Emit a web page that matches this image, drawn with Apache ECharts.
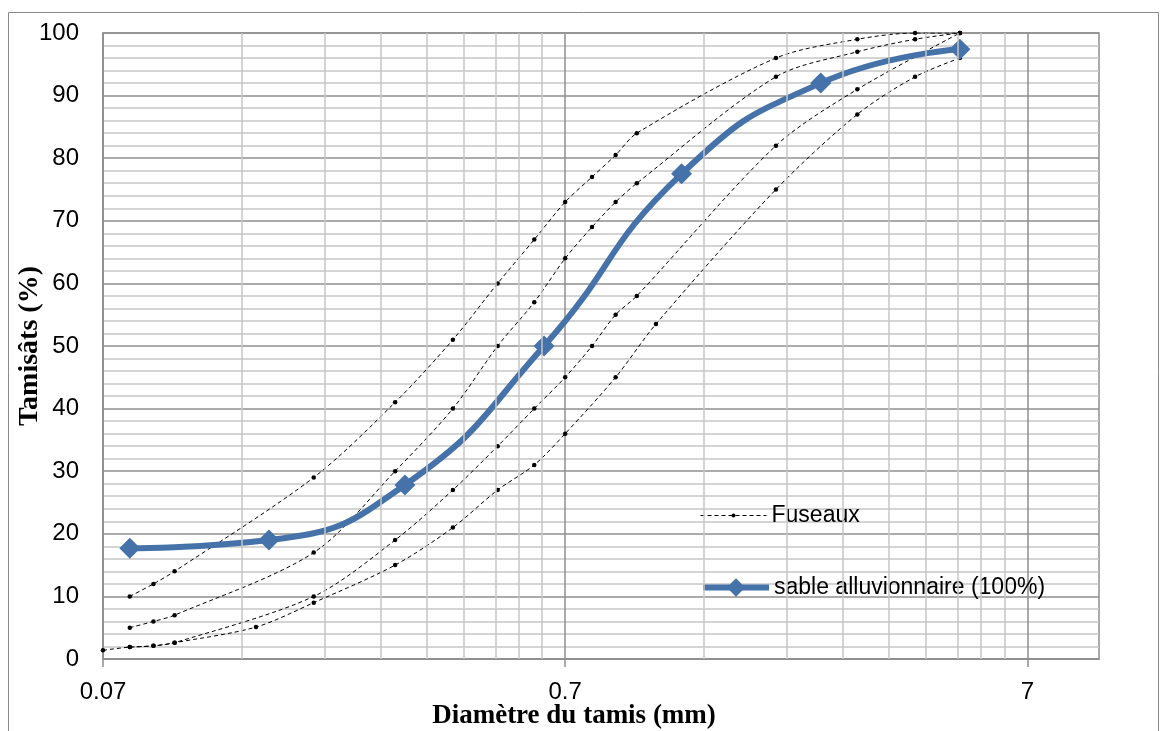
<!DOCTYPE html>
<html>
<head>
<meta charset="utf-8">
<title>Courbe granulométrique</title>
<script src="https://cdn.jsdelivr.net/npm/echarts@6.0.0/dist/echarts.min.js"></script>
<style>
  html, body { margin: 0; padding: 0; background: #fff; }
  #chart { width: 1160px; height: 731px; }
</style>
</head>
<body>
<div id="chart"></div>
<script>
// sable alluvionnaire : tamis (mm) / tamisats (%)
const sieveMm = [0.08, 0.16, 0.315, 0.63, 1.25, 2.5, 5];
const sablePct = [17.7, 19.0, 27.8, 50.0, 77.5, 92.0, 97.4];

// fuseaux (4 courbes limites)
const upperOuterMm = [0.08, 0.09, 0.1, 0.2, 0.3, 0.4, 0.5, 0.6, 0.7, 0.8, 0.9, 1, 2, 3, 4, 5];
const upperOuterPct = [10, 12, 14, 29, 41, 51, 60, 67, 73, 77, 80.5, 84, 96, 99, 100, 100];
const upperInnerMm = [0.08, 0.09, 0.1, 0.2, 0.3, 0.4, 0.5, 0.6, 0.7, 0.8, 0.9, 1, 2, 3, 4, 5];
const upperInnerPct = [5, 6, 7, 17, 30, 40, 50, 57, 64, 69, 73, 76, 93, 97, 99, 100];
const lowerInnerMm = [0.08, 0.09, 0.1, 0.2, 0.3, 0.4, 0.5, 0.6, 0.7, 0.8, 0.9, 1, 2, 3, 5];
const lowerInnerPct = [1.9, 2.1, 2.6, 10, 19, 27, 34, 40, 45, 50, 55, 58, 82, 91, 100];
const lowerOuterMm = [0.07, 0.08, 0.09, 0.1, 0.15, 0.2, 0.3, 0.4, 0.5, 0.6, 0.7, 0.9, 1.1, 2, 3, 4, 5];
const lowerOuterPct = [1.4, 1.9, 2.1, 2.6, 5.1, 9, 15, 21, 27, 31, 36, 45, 53.5, 75, 87, 93, 96];

const xTickLabels = ['0.07', '0.7', '7'];
const X_MIN_MM = 0.07;
const X_MAX_MM = 10;

const sansFont = '"Liberation Sans", Arial, sans-serif';
const serifFont = '"Liberation Serif", "Times New Roman", serif';
const blue = '#4672aa';

// echelle log : on travaille en decades depuis 0.07
function toAxis(mm) { return Math.log10(mm / X_MIN_MM); }
function pairs(mm, pct) { return mm.map(function (d, i) { return [toAxis(d), pct[i]]; }); }

// traits secondaires verticaux (2x .. 9x dans chaque decade)
const minorLines = [];
for (let dec = 0; dec < 2; dec++) {
  for (let k = 2; k <= 9; k++) minorLines.push({ xAxis: dec + Math.log10(k) });
}

function fuseau(mm, pct) {
  return {
    name: 'Fuseaux',
    type: 'line',
    data: pairs(mm, pct),
    smooth: 0.3,
    symbol: 'circle',
    symbolSize: 4.5,
    z: 3,
    lineStyle: { color: '#000', width: 1, type: [4, 3] },
    itemStyle: { color: '#000' },
    emphasis: { disabled: true }
  };
}

const legendText = { fontFamily: sansFont, fontSize: 23, color: '#000' };

const chart = echarts.init(document.getElementById('chart'));
chart.setOption({
  animation: false,
  backgroundColor: '#fff',
  graphic: [{
    type: 'rect',
    shape: { x: 8.5, y: 12.5, width: 1150, height: 740 },
    style: { fill: 'none', stroke: '#8a8a8a', lineWidth: 1 },
    silent: true
  }],
  grid: {
    left: 103, right: 61, top: 33, bottom: 72,
    outerBoundsMode: 'none',
    containLabel: false,
    show: true, borderColor: '#8f8f8f', borderWidth: 1.5
  },
  legend: [{
    orient: 'vertical',
    left: 695,
    top: 499,
    itemWidth: 66,
    itemHeight: 5,
    textStyle: legendText,
    data: [{ name: 'Fuseaux', lineStyle: { color: '#000', width: 1, type: [4, 3] }, itemStyle: { color: '#000' } }]
  }, {
    orient: 'vertical',
    left: 695,
    top: 571,
    itemWidth: 66,
    itemHeight: 23,
    textStyle: legendText,
    data: [{ name: 'sable alluvionnaire (100%)', lineStyle: { color: blue, width: 6 }, itemStyle: { color: blue } }]
  }],
  xAxis: {
    type: 'value',
    min: 0,
    max: toAxis(X_MAX_MM),
    interval: 1,
    name: 'Diamètre du tamis (mm)',
    nameLocation: 'middle',
    nameGap: 44,
    nameMoveOverlap: false,
    nameTextStyle: {
      fontFamily: serifFont, fontWeight: 'bold', fontSize: 27, color: '#000',
      padding: [0, 54, 0, 0]
    },
    axisLine: { lineStyle: { color: '#8f8f8f', width: 1.5 } },
    axisTick: { show: true, length: 8, customValues: [0, 1, 2], lineStyle: { color: '#8f8f8f', width: 1.5 } },
    axisLabel: {
      margin: 21,
      customValues: [0, 1, 2],
      fontFamily: sansFont, fontSize: 24, color: '#000',
      formatter: function (v) { return xTickLabels[Math.round(v)] || ''; }
    },
    splitLine: { show: true, lineStyle: { color: '#8f8f8f', width: 1.5 } }
  },
  yAxis: {
    type: 'value',
    min: 0,
    max: 100,
    interval: 10,
    name: 'Tamisâts (%)',
    nameLocation: 'middle',
    nameGap: 59,
    nameMoveOverlap: false,
    nameTextStyle: { fontFamily: serifFont, fontWeight: 'bold', fontSize: 28, color: '#000' },
    axisLine: { show: true, lineStyle: { color: '#8f8f8f', width: 1.5 } },
    axisTick: { show: false },
    axisLabel: { margin: 24, fontFamily: sansFont, fontSize: 24, color: '#000' },
    splitLine: { show: true, lineStyle: { color: '#8f8f8f', width: 1.5 } },
    minorTick: { show: false, splitNumber: 5 },
    minorSplitLine: { show: true, lineStyle: { color: '#c6c6c6', width: 1.5 } }
  },
  series: [
    {
      name: 'grille',
      type: 'line',
      data: [],
      z: 1,
      silent: true,
      markLine: {
        silent: true,
        symbol: ['none', 'none'],
        label: { show: false },
        lineStyle: { color: '#c6c6c6', width: 1.5, type: 'solid' },
        emphasis: { disabled: true },
        data: minorLines
      }
    },
    fuseau(upperOuterMm, upperOuterPct),
    fuseau(upperInnerMm, upperInnerPct),
    fuseau(lowerInnerMm, lowerInnerPct),
    fuseau(lowerOuterMm, lowerOuterPct),
    {
      name: 'sable alluvionnaire (100%)',
      type: 'line',
      data: pairs(sieveMm, sablePct),
      smooth: 0.5,
      symbol: 'diamond',
      symbolSize: 21,
      z: 4,
      lineStyle: { color: blue, width: 6 },
      itemStyle: { color: blue },
      emphasis: { disabled: true }
    }
  ]
});
</script>
</body>
</html>
